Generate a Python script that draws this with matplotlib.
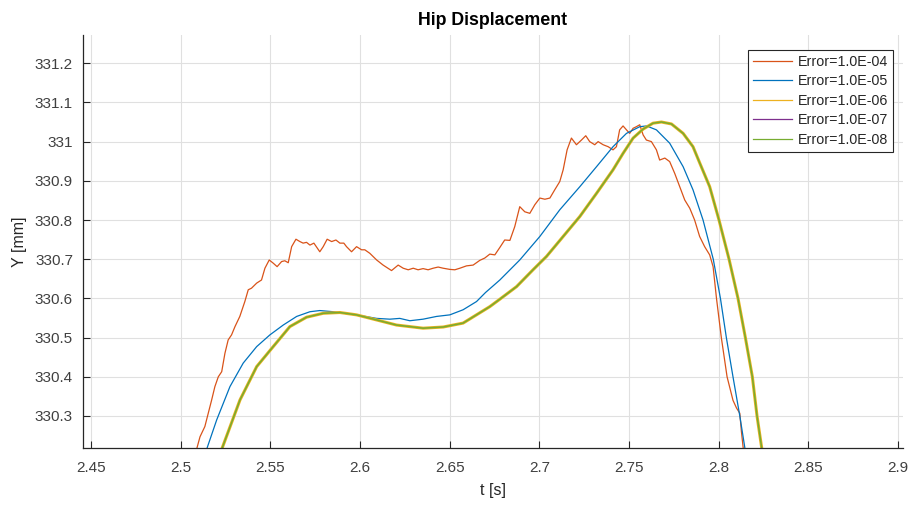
import matplotlib
matplotlib.use("Agg")
import matplotlib.pyplot as plt

plt.rcParams['font.family'] = ['Liberation Sans', 'DejaVu Sans']

# ---------------- data ----------------
t_e4 = [2.5080, 2.5089, 2.5108, 2.5135, 2.5154, 2.5173, 2.5191, 2.5210, 2.5229, 2.5247,
        2.5265, 2.5284, 2.5303, 2.5330, 2.5358, 2.5377, 2.5395, 2.5424, 2.5451, 2.5470,
        2.5494, 2.5516, 2.5538, 2.5563, 2.5581, 2.5600, 2.5619, 2.5643, 2.5665, 2.5683,
        2.5702, 2.5721, 2.5743, 2.5776, 2.5795, 2.5817, 2.5842, 2.5866, 2.5888, 2.5910,
        2.5925, 2.5953, 2.5981, 2.6009, 2.6027, 2.6055, 2.6093, 2.6129, 2.6176, 2.6213,
        2.6241, 2.6269, 2.6297, 2.6324, 2.6352, 2.6380, 2.6408, 2.6436, 2.6464, 2.6501,
        2.6529, 2.6557, 2.6594, 2.6631, 2.6668, 2.6696, 2.6724, 2.6752, 2.6780, 2.6807,
        2.6836, 2.6863, 2.6891, 2.6919, 2.6947, 2.6975, 2.7003, 2.7031, 2.7059, 2.7086,
        2.7114, 2.7133, 2.7155, 2.7179, 2.7207, 2.7235, 2.7259, 2.7281, 2.7309, 2.7328,
        2.7356, 2.7384, 2.7411, 2.7430, 2.7448, 2.7467, 2.7486, 2.7504, 2.7523, 2.7541,
        2.7560, 2.7579, 2.7597, 2.7625, 2.7653, 2.7671, 2.7700, 2.7727, 2.7755, 2.7783,
        2.7811, 2.7839, 2.7866, 2.7894, 2.7922, 2.7950, 2.7969, 2.7977, 2.7988, 2.8015,
        2.8047, 2.8080, 2.8100, 2.8118, 2.8127, 2.8136, 2.8145]
y_e4 = [330.19, 330.215, 330.247, 330.273, 330.307, 330.341, 330.375, 330.400, 330.413, 330.460,
        330.494, 330.507, 330.528, 330.554, 330.592, 330.622, 330.626, 330.639, 330.647, 330.677,
        330.698, 330.690, 330.681, 330.694, 330.696, 330.691, 330.732, 330.751, 330.745, 330.741,
        330.743, 330.736, 330.741, 330.719, 330.732, 330.751, 330.745, 330.749, 330.741, 330.741,
        330.732, 330.719, 330.732, 330.724, 330.724, 330.715, 330.698, 330.685, 330.671, 330.685,
        330.677, 330.673, 330.677, 330.673, 330.676, 330.673, 330.677, 330.680, 330.677, 330.674,
        330.673, 330.677, 330.683, 330.685, 330.697, 330.703, 330.713, 330.711, 330.730, 330.749,
        330.748, 330.783, 330.834, 330.821, 330.817, 330.839, 330.856, 330.853, 330.856, 330.877,
        330.898, 330.928, 330.979, 331.009, 330.992, 331.004, 331.015, 331.000, 330.992, 331.000,
        330.992, 330.987, 330.979, 330.987, 331.030, 331.040, 331.030, 331.021, 331.034, 331.038,
        331.043, 331.017, 331.004, 331.000, 330.979, 330.953, 330.958, 330.949, 330.919, 330.885,
        330.851, 330.830, 330.800, 330.758, 330.732, 330.711, 330.681, 330.647, 330.600, 330.500,
        330.400, 330.340, 330.320, 330.307, 330.260, 330.222, 330.19]

t_e5 = [2.5130, 2.5145, 2.5201, 2.5275, 2.5349, 2.5424, 2.5498, 2.5572, 2.5647, 2.5721,
        2.5776, 2.5851, 2.5944, 2.6018, 2.6093, 2.6167, 2.6222, 2.6278, 2.6352, 2.6427,
        2.6501, 2.6575, 2.6650, 2.6700, 2.6780, 2.6891, 2.7003, 2.7114, 2.7226, 2.7319,
        2.7411, 2.7486, 2.7560, 2.7598, 2.7653, 2.7727, 2.7802, 2.7857, 2.7913, 2.7970,
        2.8010, 2.8043, 2.8080, 2.8118, 2.8145, 2.8155]
y_e5 = [330.19, 330.215, 330.290, 330.375, 330.435, 330.477, 330.507, 330.532, 330.554, 330.566,
        330.569, 330.566, 330.560, 330.555, 330.549, 330.547, 330.549, 330.543, 330.547, 330.554,
        330.558, 330.571, 330.592, 330.615, 330.647, 330.698, 330.758, 330.826, 330.885, 330.936,
        330.987, 331.021, 331.038, 331.040, 331.030, 330.996, 330.936, 330.877, 330.800, 330.700,
        330.600, 330.500, 330.400, 330.300, 330.222, 330.19]

t_e6 = [2.5209, 2.5229, 2.5331, 2.5424, 2.5498, 2.5609, 2.5702, 2.5795, 2.5888, 2.5981,
        2.6093, 2.6204, 2.6352, 2.6464, 2.6575, 2.6724, 2.6780, 2.6873, 2.6965, 2.7040,
        2.7133, 2.7226, 2.7319, 2.7411, 2.7467, 2.7523, 2.7579, 2.7634, 2.7681, 2.7737,
        2.7802, 2.7857, 2.7895, 2.7950, 2.8002, 2.8058, 2.8108, 2.8149, 2.8188, 2.8214,
        2.8239, 2.8250]
y_e6 = [330.19, 330.215, 330.341, 330.426, 330.467, 330.528, 330.552, 330.562, 330.564, 330.558,
        330.545, 330.532, 330.524, 330.527, 330.537, 330.579, 330.598, 330.630, 330.673, 330.707,
        330.758, 330.809, 330.868, 330.928, 330.970, 331.009, 331.032, 331.047, 331.050, 331.045,
        331.021, 330.987, 330.945, 330.885, 330.800, 330.700, 330.600, 330.500, 330.400, 330.300,
        330.222, 330.19]

t_e7 = list(t_e6)
y_e7 = list(y_e6)
t_e8 = list(t_e6)
y_e8 = list(y_e6)

labels = ['Error=1.0E-04', 'Error=1.0E-05', 'Error=1.0E-06', 'Error=1.0E-07', 'Error=1.0E-08']
xticks = [2.45, 2.5, 2.55, 2.6, 2.65, 2.7, 2.75, 2.8, 2.85, 2.9]
xticklabels = ['2.45', '2.5', '2.55', '2.6', '2.65', '2.7', '2.75', '2.8', '2.85', '2.9']
yticks = [330.3, 330.4, 330.5, 330.6, 330.7, 330.8, 330.9, 331.0, 331.1, 331.2]
yticklabels = ['330.3', '330.4', '330.5', '330.6', '330.7', '330.8', '330.9', '331', '331.1', '331.2']

colors = ['#D95319', '#0072BD', '#EDB120', '#7E2F8E', '#77AC30']

# ---------------- figure ----------------
fig = plt.figure(figsize=(9.09, 5.05), dpi=100)
ax = fig.add_axes([0.091, 0.1123, 0.9024, 0.8184])

series = [(t_e4, y_e4), (t_e5, y_e5), (t_e6, y_e6), (t_e7, y_e7), (t_e8, y_e8)]
lws = [0.9, 0.9, 2.2, 0.5, 1.1]
zorders = [2.0, 2.1, 2.3, 2.2, 2.4]
for (tt, yy), c, lab, lw, z in zip(series, colors, labels, lws, zorders):
    ax.plot(tt, yy, color=c, lw=lw, label=lab, zorder=z)

ax.set_xlim(2.4454, 2.9028)
ax.set_ylim(330.2176, 331.272)
ax.set_xticks(xticks)
ax.set_xticklabels(xticklabels)
ax.set_yticks(yticks)
ax.set_yticklabels(yticklabels)

ax.grid(True, color='#e0e0e0', lw=0.8)
ax.set_axisbelow(True)
for s in ['top', 'right']:
    ax.spines[s].set_visible(False)
for s in ['left', 'bottom']:
    ax.spines[s].set_color('#262626')
    ax.spines[s].set_linewidth(0.9)

ax.tick_params(direction='in', length=5, width=0.8, colors='#262626',
               labelsize=11, labelcolor='#404040')
ax.tick_params(axis='x', pad=9)
ax.tick_params(axis='y', pad=7)

ax.set_title('Hip Displacement', fontsize=12.8, fontweight='bold', color='#000000', pad=7)
ax.set_xlabel('t [s]', fontsize=11.5, color='#262626', labelpad=6)
ax.set_ylabel('Y [mm]', fontsize=11.5, color='#262626', labelpad=6)

leg = ax.legend(loc='upper right', bbox_to_anchor=(0.9878, 0.9637), borderaxespad=0,
                fancybox=False, frameon=True, fontsize=10.3, handlelength=2.7,
                labelspacing=0.38, handletextpad=0.4, borderpad=0.35)
leg.get_frame().set_edgecolor('#262626')
leg.get_frame().set_linewidth(0.8)
leg.get_frame().set_alpha(1)
for txt in leg.get_texts():
    txt.set_color('#262626')
for line in leg.get_lines():
    line.set_linewidth(0.9)

fig.savefig('out.png', dpi=100)
